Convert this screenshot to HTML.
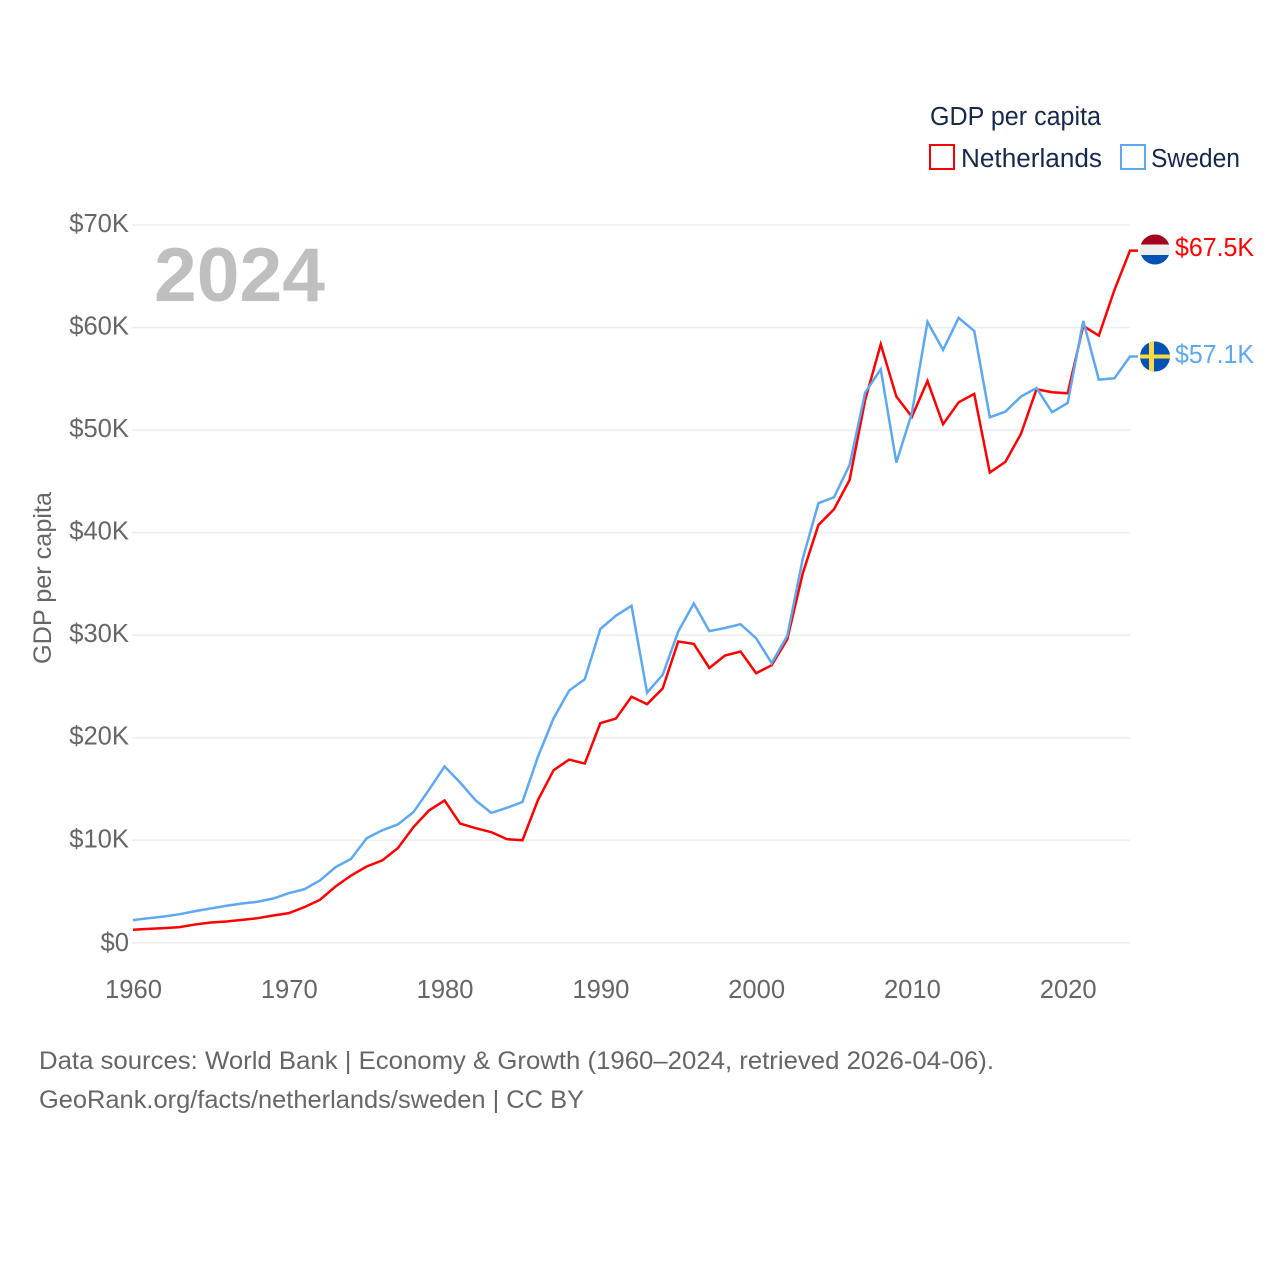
<!DOCTYPE html>
<html lang="en">
<head>
<meta charset="utf-8">
<title>GDP per capita: Netherlands and Sweden</title>
<style>
  html, body { margin: 0; padding: 0; background: #fff; width: 1280px; height: 1280px; overflow: hidden; }
  svg { display: block; }
  text { font-family: "Liberation Sans", sans-serif; }
</style>
</head>
<body>
<svg id="chart" xmlns="http://www.w3.org/2000/svg" width="1280" height="1280" viewBox="0 0 1280 1280">
  <rect x="0" y="0" width="1280" height="1280" fill="#ffffff"/>
  <g id="grid"></g>
  <g id="y-ticks"></g>
  <g id="x-ticks"></g>
  <text x="154" y="301" font-size="76" font-weight="700" fill="#bfbfbf" textLength="171" lengthAdjust="spacingAndGlyphs">2024</text>
  <text transform="translate(51 664) rotate(-90)" font-size="25" fill="#666666" textLength="172" lengthAdjust="spacingAndGlyphs">GDP per capita</text>
  <g id="series"></g>

  <g>
    <text x="930" y="125" font-size="25.5" fill="#15294b" textLength="171" lengthAdjust="spacingAndGlyphs">GDP per capita</text>
    <rect x="930" y="145" width="24" height="24" fill="none" stroke="#ff0000" stroke-width="2"/>
    <text x="961" y="167" font-size="25.5" fill="#15294b" textLength="141" lengthAdjust="spacingAndGlyphs">Netherlands</text>
    <rect x="1121" y="145" width="24" height="24" fill="none" stroke="#5ea8f0" stroke-width="2"/>
    <text x="1151" y="167" font-size="25.5" fill="#15294b" textLength="89" lengthAdjust="spacingAndGlyphs">Sweden</text>
  </g>

  <defs>
    <clipPath id="clip-nl"><circle cx="1155" cy="249.5" r="15"/></clipPath>
    <clipPath id="clip-se"><circle cx="1155" cy="356.5" r="15"/></clipPath>
  </defs>
  <g clip-path="url(#clip-nl)">
    <rect x="1140" y="234" width="30" height="10.5" fill="#a2001d"/>
    <rect x="1140" y="244.5" width="30" height="10.5" fill="#eeeeee"/>
    <rect x="1140" y="255" width="30" height="11" fill="#0052b4"/>
  </g>
  <g clip-path="url(#clip-se)">
    <rect x="1140" y="341" width="30" height="31" fill="#0052b4"/>
    <rect x="1149" y="341" width="5" height="31" fill="#ffda44"/>
    <rect x="1140" y="354.5" width="30" height="4" fill="#ffda44"/>
  </g>
  <text x="1175" y="256" font-size="25.5" fill="#ff0000" textLength="79" lengthAdjust="spacingAndGlyphs">$67.5K</text>
  <text x="1175" y="363" font-size="25.5" fill="#5ea8f0" textLength="79" lengthAdjust="spacingAndGlyphs">$57.1K</text>

  <text x="39" y="1069" font-size="25" fill="#666666" textLength="955" lengthAdjust="spacingAndGlyphs">Data sources: World Bank | Economy &amp; Growth (1960–2024, retrieved 2026-04-06).</text>
  <text x="39" y="1108" font-size="25" fill="#666666" textLength="545" lengthAdjust="spacingAndGlyphs">GeoRank.org/facts/netherlands/sweden | CC BY</text>
</svg>
<script>
const startYear = 1960;
const netherlandsValues = [
  1.27, 1.36, 1.43, 1.53, 1.79, 1.98, 2.08, 2.24, 2.40, 2.66,
  2.89, 3.48, 4.19, 5.49, 6.56, 7.44, 8.03, 9.23, 11.28, 12.90,
  13.88, 11.63, 11.18, 10.79, 10.11, 10.00, 13.94, 16.83, 17.87, 17.48,
  21.42, 21.87, 24.00, 23.27, 24.80, 29.38, 29.15, 26.80, 28.01, 28.40,
  26.29, 27.07, 29.60, 36.07, 40.75, 42.28, 45.14, 52.94, 58.37, 53.27,
  51.30, 54.79, 50.57, 52.71, 53.53, 45.86, 46.90, 49.63, 53.98, 53.69,
  53.59, 60.16, 59.21, 63.66, 67.50
];
const swedenValues = [
  2.21, 2.40, 2.57, 2.79, 3.09, 3.35, 3.61, 3.83, 4.00, 4.32,
  4.84, 5.23, 6.08, 7.38, 8.19, 10.20, 10.98, 11.54, 12.74, 14.92,
  17.19, 15.63, 13.88, 12.67, 13.16, 13.74, 18.17, 21.90, 24.60, 25.70,
  30.60, 31.90, 32.86, 24.40, 26.13, 30.35, 33.10, 30.40, 30.70, 31.07,
  29.70, 27.27, 29.93, 37.50, 42.87, 43.45, 46.60, 53.66, 55.93, 46.83,
  51.67, 60.55, 57.82, 60.94, 59.67, 51.25, 51.80, 53.27, 54.10, 51.74,
  52.65, 60.64, 54.92, 55.05, 57.17
];
const yTickValues = [0, 10, 20, 30, 40, 50, 60, 70];
const yTickLabels = ["$0", "$10K", "$20K", "$30K", "$40K", "$50K", "$60K", "$70K"];
const xTickValues = [1960, 1970, 1980, 1990, 2000, 2010, 2020];
const xTickLabels = ["1960", "1970", "1980", "1990", "2000", "2010", "2020"];

const NS = "http://www.w3.org/2000/svg";
function xScale(year) { return 133 + (year - 1960) * (1130 - 133) / (2024 - 1960); }
function yScale(value) { return 942.8 - value * (942.8 - 225) / 70; }

const gridLayer = document.getElementById("grid");
const yLayer = document.getElementById("y-ticks");
const xLayer = document.getElementById("x-ticks");
const seriesLayer = document.getElementById("series");

yTickValues.forEach(function (v, i) {
  const line = document.createElementNS(NS, "line");
  
  
  line.setAttribute("x1", 132);
  line.setAttribute("x2", 1130);
  line.setAttribute("y1", yScale(v));
  line.setAttribute("y2", yScale(v));
  line.setAttribute("stroke", "#eeeeee");
  line.setAttribute("stroke-width", 1.6);
  gridLayer.appendChild(line);

  const label = document.createElementNS(NS, "text");
  
  
  label.setAttribute("x", 129);
  label.setAttribute("y", yScale(v) + 7 - (v === 0 ? -1 : 0));
  label.setAttribute("text-anchor", "end");
  label.setAttribute("font-size", 25.6);
  label.setAttribute("fill", "#666666");
  label.textContent = yTickLabels[i];
  yLayer.appendChild(label);
});

xTickValues.forEach(function (v, i) {
  const label = document.createElementNS(NS, "text");
  
  
  label.setAttribute("x", xScale(v) + 0.5);
  label.setAttribute("y", 998);
  label.setAttribute("text-anchor", "middle");
  label.setAttribute("font-size", 25.6);
  label.setAttribute("fill", "#666666");
  label.textContent = xTickLabels[i];
  xLayer.appendChild(label);
});

function linePoints(values) {
  const pts = values.map(function (v, i) {
    return xScale(startYear + i).toFixed(2) + "," + yScale(v).toFixed(2);
  });
  const last = values[values.length - 1];
  pts.push((xScale(startYear + values.length - 1) + 8).toFixed(2) + "," + yScale(last).toFixed(2));
  return pts.join(" ");
}

const netherlandsLine = document.createElementNS(NS, "polyline");


netherlandsLine.setAttribute("points", linePoints(netherlandsValues));
netherlandsLine.setAttribute("fill", "none");
netherlandsLine.setAttribute("stroke", "#ff0000");
netherlandsLine.setAttribute("stroke-width", 2.5);
netherlandsLine.setAttribute("stroke-linejoin", "miter");
seriesLayer.appendChild(netherlandsLine);

const swedenLine = document.createElementNS(NS, "polyline");


swedenLine.setAttribute("points", linePoints(swedenValues));
swedenLine.setAttribute("fill", "none");
swedenLine.setAttribute("stroke", "#5ea8f0");
swedenLine.setAttribute("stroke-width", 2.5);
swedenLine.setAttribute("stroke-linejoin", "miter");
seriesLayer.appendChild(swedenLine);
</script>
</body>
</html>
